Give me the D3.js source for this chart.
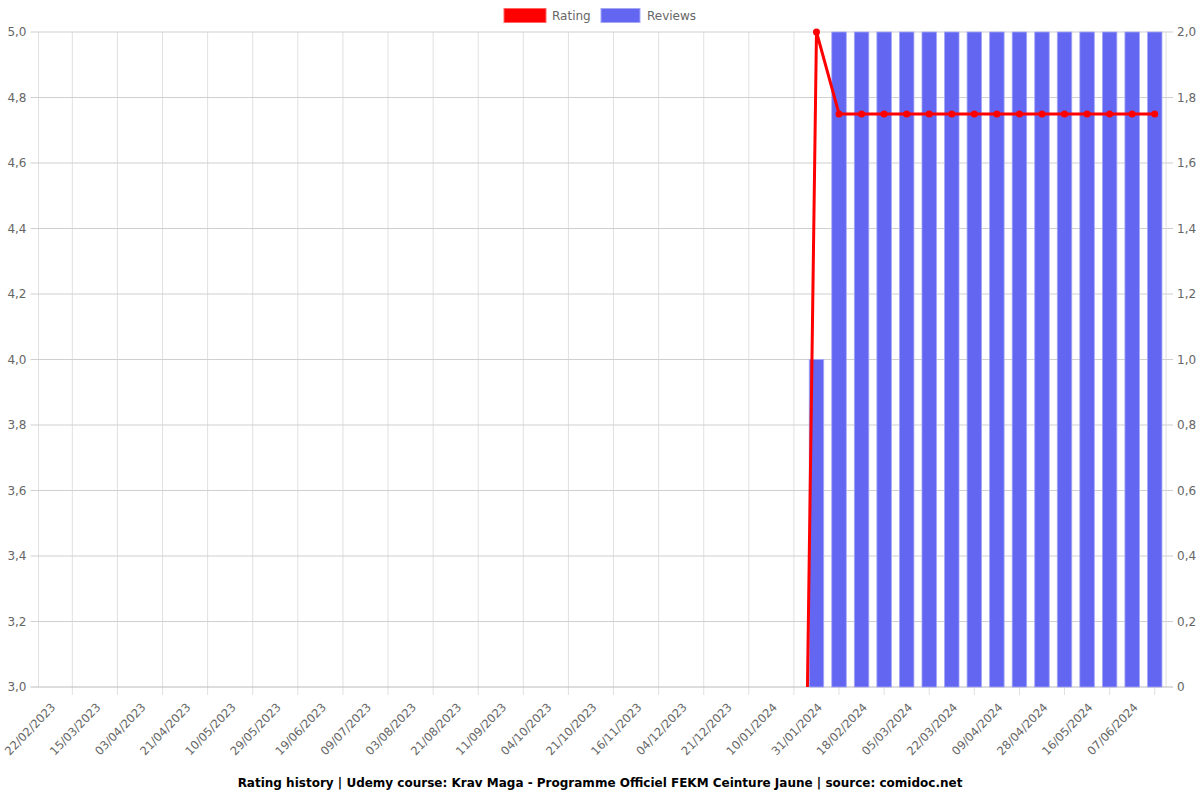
<!DOCTYPE html>
<html>
<head>
<meta charset="utf-8">
<script src="https://cdn.jsdelivr.net/npm/d3@7"></script>
<style>
  body { margin: 0; background: #fff; }
  svg { display: block; font-family: "DejaVu Sans", sans-serif; }
</style>
</head>
<body>
<svg id="chart" width="1200" height="800"></svg>
<script>
// Categories (dates); every other one is labelled on the axis
const categories = [
  "22/02/2023","04/03/2023","15/03/2023","25/03/2023","03/04/2023","12/04/2023",
  "21/04/2023","30/04/2023","10/05/2023","19/05/2023","29/05/2023","08/06/2023",
  "19/06/2023","29/06/2023","09/07/2023","21/07/2023","03/08/2023","12/08/2023",
  "21/08/2023","31/08/2023","11/09/2023","22/09/2023","04/10/2023","12/10/2023",
  "21/10/2023","03/11/2023","16/11/2023","25/11/2023","04/12/2023","12/12/2023",
  "21/12/2023","31/12/2023","10/01/2024","20/01/2024","31/01/2024","09/02/2024",
  "18/02/2024","26/02/2024","05/03/2024","13/03/2024","22/03/2024","31/03/2024",
  "09/04/2024","18/04/2024","28/04/2024","07/05/2024","16/05/2024","27/05/2024",
  "07/06/2024","15/06/2024"
];
const ratingValues = [
  0,0,0,0,0,0,0,0,0,0,0,0,0,0,0,0,0,0,0,0,0,0,0,0,0,0,0,0,0,0,0,0,0,0,
  5.0,4.75,4.75,4.75,4.75,4.75,4.75,4.75,4.75,4.75,4.75,4.75,4.75,4.75,4.75,4.75
];
const reviewValues = [
  0,0,0,0,0,0,0,0,0,0,0,0,0,0,0,0,0,0,0,0,0,0,0,0,0,0,0,0,0,0,0,0,0,0,
  1,2,2,2,2,2,2,2,2,2,2,2,2,2,2,2
];
const leftTicks = [3.0,3.2,3.4,3.6,3.8,4.0,4.2,4.4,4.6,4.8,5.0];
const rightTicks = [0,0.2,0.4,0.6,0.8,1.0,1.2,1.4,1.6,1.8,2.0];
const seriesNames = ["Rating","Reviews"];
const titleText = "Rating history | Udemy course: Krav Maga - Programme Officiel FEKM Ceinture Jaune | source: comidoc.net";

const svg = d3.select("#chart");
const m = {left: 38.5, right: 1166, top: 32, bottom: 687};
const fmt = v => v === 0 ? "0" : d3.format(".1f")(v).replace(".", ",");

const x = d3.scaleBand().domain(categories).range([m.left, m.right]).paddingInner(0).paddingOuter(0);
const xc = c => x(c) + x.bandwidth() / 2;
const yL = d3.scaleLinear().domain([3, 5]).range([m.bottom, m.top]);
const yR = d3.scaleLinear().domain([0, 2]).range([m.bottom, m.top]);

const gridColor = "#e0e0e0";
const hGridColor = "#cfcfcf";

// vertical grid lines: between labelled ticks (odd categories) + plot edges
const grid = svg.append("g");
const oddCats = categories.filter((c, i) => i % 2 === 1);
grid.selectAll("line.v").data(oddCats).enter().append("line")
  .attr("x1", d => xc(d)).attr("x2", d => xc(d))
  .attr("y1", m.top).attr("y2", m.bottom + 8)
  .attr("stroke", gridColor).attr("stroke-width", 1);
grid.append("line").attr("x1", m.left).attr("x2", m.left).attr("y1", m.top).attr("y2", m.bottom)
  .attr("stroke", gridColor);
grid.append("line").attr("x1", m.right).attr("x2", m.right).attr("y1", m.top).attr("y2", m.bottom)
  .attr("stroke", gridColor);

// horizontal grid lines
grid.selectAll("line.h").data(leftTicks).enter().append("line")
  .attr("x1", m.left - 8).attr("x2", m.right + 7)
  .attr("y1", d => yL(d)).attr("y2", d => yL(d))
  .attr("stroke", d => d === 3 ? "#bbbbbb" : hGridColor).attr("stroke-width", 1);

// left axis labels
svg.append("g").selectAll("text").data(leftTicks).enter().append("text")
  .attr("x", m.left - 12).attr("y", d => yL(d)).attr("dy", "0.35em")
  .attr("text-anchor", "end").attr("font-size", 12).attr("fill", "#666")
  .text(fmt);

// right axis labels
svg.append("g").selectAll("text").data(rightTicks).enter().append("text")
  .attr("x", m.right + 11).attr("y", d => yR(d)).attr("dy", "0.35em")
  .attr("text-anchor", "start").attr("font-size", 12).attr("fill", "#666")
  .text(fmt);

// x labels (every other category)
const evenCats = categories.filter((c, i) => i % 2 === 0);
svg.append("g").selectAll("text").data(evenCats).enter().append("text")
  .attr("transform", d => `translate(${xc(d) + 3.5},${m.bottom + 18}) rotate(-46)`)
  .attr("text-anchor", "end").attr("dy", "0.35em")
  .attr("font-size", 11.6).attr("fill", "#666")
  .text(d => d);

// clip
svg.append("clipPath").attr("id", "clip").append("rect")
  .attr("x", m.left).attr("y", m.top - 5).attr("width", m.right - m.left).attr("height", m.bottom - m.top + 5);

// bars
const barW = 14.5;
svg.append("g").selectAll("rect").data(categories.map((c, i) => ({c, v: reviewValues[i]})).filter(d => d.v > 0))
  .enter().append("rect")
  .attr("x", d => xc(d.c) - barW / 2).attr("width", barW)
  .attr("y", d => yR(d.v)).attr("height", d => yR(0) - yR(d.v))
  .attr("fill", "#6366f1").attr("stroke", "#a5a7f5").attr("stroke-width", 0.8);

// rating line
const data = categories.map((c, i) => ({c, v: ratingValues[i]}));
const lineG = svg.append("g").attr("clip-path", "url(#clip)");
lineG.append("path").datum(data)
  .attr("d", d3.line().x(d => xc(d.c)).y(d => yL(d.v)))
  .attr("fill", "none").attr("stroke", "#ff0000").attr("stroke-width", 3).attr("stroke-linejoin", "round");
lineG.selectAll("circle").data(data.filter(d => d.v >= 3)).enter().append("circle")
  .attr("cx", d => xc(d.c)).attr("cy", d => yL(d.v)).attr("r", 3.5)
  .attr("fill", "#ff0000");

// legend
const lg = svg.append("g");
lg.append("rect").attr("x", 504).attr("y", 8.5).attr("width", 42).attr("height", 14)
  .attr("fill", "#ff0000").attr("stroke", "#ff6666").attr("stroke-width", 1);
lg.append("text").attr("x", 552).attr("y", 16).attr("dy", "0.35em").attr("font-size", 12).attr("fill", "#666").text(seriesNames[0]);
lg.append("rect").attr("x", 601).attr("y", 8.5).attr("width", 39).attr("height", 14)
  .attr("fill", "#6366f1").attr("stroke", "#a5a7f5").attr("stroke-width", 1);
lg.append("text").attr("x", 647).attr("y", 16).attr("dy", "0.35em").attr("font-size", 12).attr("fill", "#666").text(seriesNames[1]);

// title
svg.append("text").attr("x", 600).attr("y", 783).attr("dy", "0.35em")
  .attr("text-anchor", "middle").attr("font-size", 12).attr("font-weight", "bold").attr("fill", "#000")
  .text(titleText);
</script>
</body>
</html>
